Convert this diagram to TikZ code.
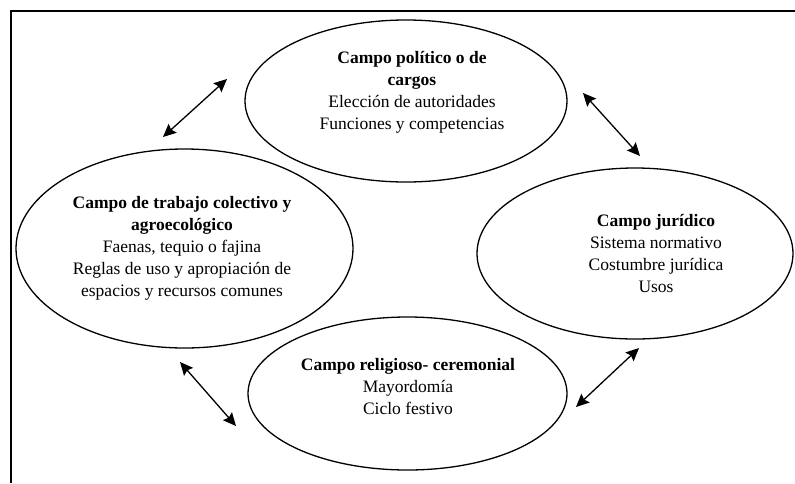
\documentclass[tikz,border=0pt]{standalone}
\usepackage{fontspec}
\setmainfont{Liberation Serif}
\usetikzlibrary{shapes.geometric}
\usetikzlibrary{arrows.meta}

\begin{document}
\begin{tikzpicture}[x=1pt,y=-1pt,
  campo/.style={draw,ellipse,line width=1.3pt,inner sep=0pt},
  texto/.style={align=center,inner sep=0pt,font=\fontsize{17.5}{22}\selectfont},
  link/.style={{Stealth[length=13pt,width=12pt,inset=2pt]}-{Stealth[length=13pt,width=12pt,inset=2pt]},line width=1.3pt}]
  \useasboundingbox (0,0) rectangle (795,483);
  \draw[line width=2pt] (10.5,483) -- (10.5,10.5) -- (795,10.5);

  \node[campo,minimum width=322pt,minimum height=162pt] (pol)  at (406,101)   {};
  \node[campo,minimum width=337pt,minimum height=199pt] (trab) at (184.5,248.5) {};
  \node[campo,minimum width=316pt,minimum height=171pt] (jur)  at (635,253.5) {};
  \node[campo,minimum width=319pt,minimum height=153pt] (rel)  at (407.5,393.5) {};

  \node[texto] (pol-t)  at (412,92)  {\textbf{Campo político o de}\\\textbf{cargos}\\Elección de autoridades\\Funciones y competencias};
  \node[texto] (trab-t) at (182,248) {\textbf{Campo de trabajo colectivo y}\\\textbf{agroecológico}\\Faenas, tequio o fajina\\Reglas de uso y apropiación de\\espacios y recursos comunes};
  \node[texto] (jur-t)  at (656,253) {\textbf{Campo jurídico}\\Sistema normativo\\Costumbre jurídica\\Usos};
  \node[texto] (rel-t)  at (408,387) {\textbf{Campo religioso- ceremonial}\\Mayordomía\\Ciclo festivo};

  \coordinate (trab-pol) at (163,137);
  \coordinate (pol-trab) at (227,79);
  \coordinate (pol-jur)  at (583,93);
  \coordinate (jur-pol)  at (640,156);
  \coordinate (trab-rel) at (180,362);
  \coordinate (rel-trab) at (236,426);
  \coordinate (rel-jur)  at (576,407);
  \coordinate (jur-rel)  at (639,348);

  \path[link]
    (trab-pol) edge (pol-trab)
    (pol-jur)  edge (jur-pol)
    (trab-rel) edge (rel-trab)
    (rel-jur)  edge (jur-rel);
\end{tikzpicture}
\end{document}
